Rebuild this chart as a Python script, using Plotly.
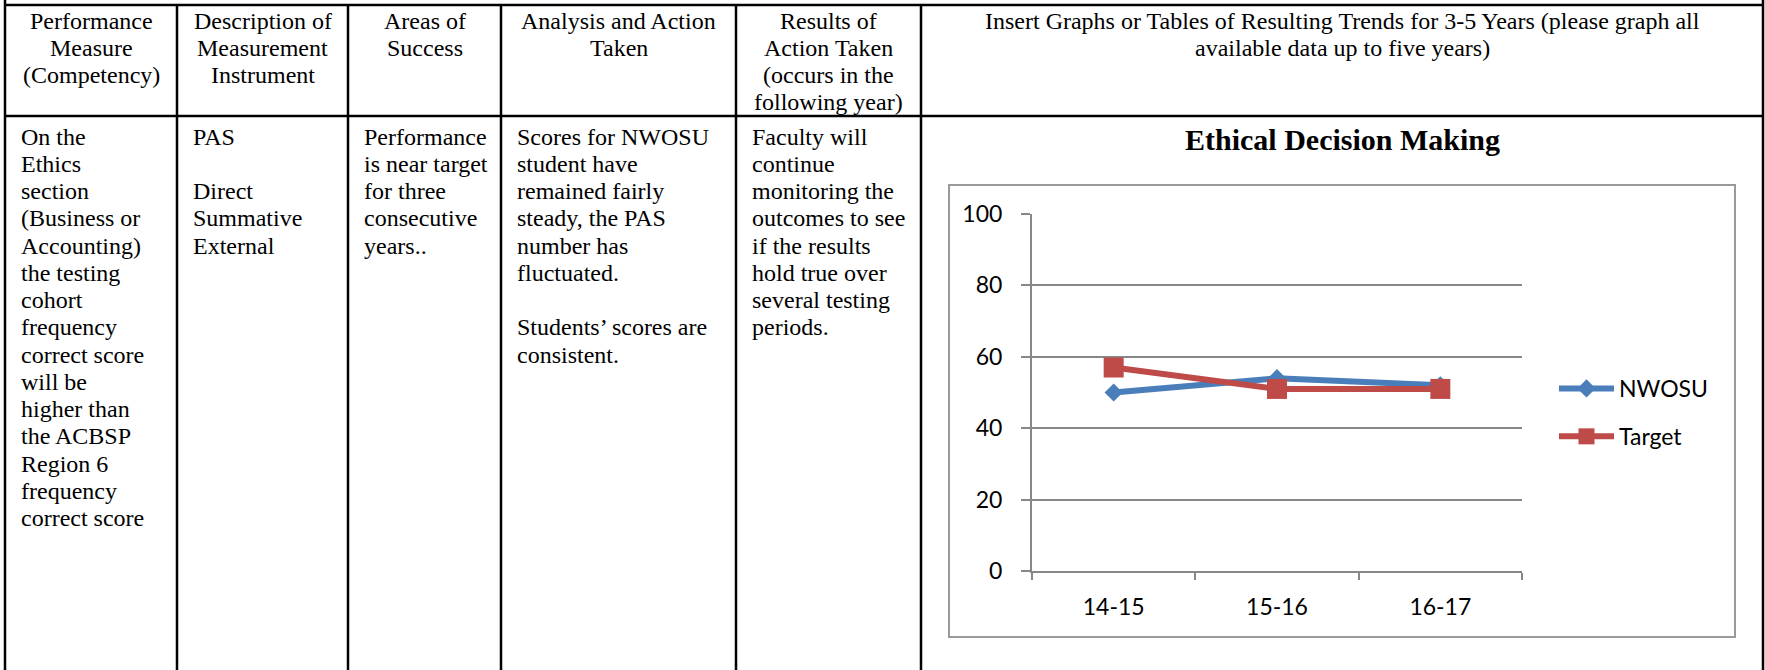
import plotly.graph_objects as go

W, H = 1765, 670

# ---- chart data ----
categories = ["14-15", "15-16", "16-17"]
nwosu = [50, 54, 52]
target = [57, 51, 51]
y_ticks = [0, 20, 40, 60, 80, 100]
chart_title = "Ethical Decision Making"

# ---- table text ----
header_cols = [
    ["Performance", "Measure", "(Competency)"],
    ["Description of", "Measurement", "Instrument"],
    ["Areas of", "Success"],
    ["Analysis and Action", "Taken"],
    ["Results of", "Action Taken", "(occurs in the", "following year)"],
    ["Insert Graphs or Tables of Resulting Trends for 3-5 Years (please graph all",
     "available data up to five years)"],
]
body_cols = [
    ["On the", "Ethics", "section", "(Business or", "Accounting)", "the testing", "cohort",
     "frequency", "correct score", "will be", "higher than", "the ACBSP", "Region 6",
     "frequency", "correct score"],
    ["PAS", "", "Direct", "Summative", "External"],
    ["Performance", "is near target", "for three", "consecutive", "years.."],
    ["Scores for NWOSU", "student have", "remained fairly", "steady, the PAS", "number has",
     "fluctuated.", "", "Students\u2019 scores are", "consistent."],
    ["Faculty will", "continue", "monitoring the", "outcomes to see", "if the results",
     "hold true over", "several testing", "periods."],
]

# ---- layout geometry (pixels) ----
col_edges = [5, 177, 348, 501, 736, 921, 1763]
top_y, head_y = 5, 116
head_line0, line_gap = 20.5, 27.25
body_line0 = 136.5
body_pad = 14
plot_x0, plot_x1, plot_y0, plot_y1 = 1032, 1522, 214, 571
box = (949, 185, 1735, 637)

SERIF = "Liberation Serif, Times New Roman, serif"
SANS = "Lato, Open Sans, sans-serif"
GRAY = "#878787"
TXT = 24


def px(x):
    return x / W


def py(y):
    return 1 - y / H


fig = go.Figure()
fig.add_trace(go.Scatter(
    x=categories, y=nwosu, name="NWOSU", mode="lines+markers", legendgroup="a",
    line=dict(color="#4A7EBB", width=6),
    marker=dict(symbol="diamond", size=14, color="#4A7EBB")))
fig.add_trace(go.Scatter(
    x=categories, y=target, name="Target", mode="lines+markers", legendgroup="b",
    line=dict(color="#BE4B48", width=6),
    marker=dict(symbol="square", size=20, color="#BE4B48")))

shapes = []
line_style = dict(color="black", width=2.5)
for x in (col_edges[0], col_edges[-1]):
    shapes.append(dict(type="line", xref="paper", yref="paper", x0=px(x), x1=px(x),
                       y0=py(0), y1=py(H), line=line_style))
for x in col_edges[1:-1]:
    shapes.append(dict(type="line", xref="paper", yref="paper", x0=px(x), x1=px(x),
                       y0=py(top_y), y1=py(H), line=line_style))
for y in (top_y, head_y):
    shapes.append(dict(type="line", xref="paper", yref="paper", x0=px(col_edges[0]),
                       x1=px(col_edges[-1]), y0=py(y), y1=py(y), line=line_style))
shapes.append(dict(type="rect", xref="paper", yref="paper", x0=px(box[0]), x1=px(box[2]),
                   y0=py(box[3]), y1=py(box[1]), line=dict(color="#9a9a9a", width=2),
                   fillcolor="rgba(0,0,0,0)", layer="below"))

annotations = []
for i, lines in enumerate(header_cols):
    cx = (col_edges[i] + col_edges[i + 1]) / 2
    for j, t in enumerate(lines):
        annotations.append(dict(
            text=t, x=px(cx), y=py(head_line0 + j * line_gap), xref="paper", yref="paper",
            xanchor="center", yanchor="middle", showarrow=False,
            font=dict(family=SERIF, size=TXT, color="black")))
for i, lines in enumerate(body_cols):
    lx = col_edges[i] + body_pad
    for j, t in enumerate(lines):
        if not t:
            continue
        annotations.append(dict(
            text=t, x=px(lx), y=py(body_line0 + j * line_gap), xref="paper", yref="paper",
            xanchor="left", yanchor="middle", showarrow=False,
            font=dict(family=SERIF, size=TXT, color="black")))
annotations.append(dict(
    text="<b>" + chart_title + "</b>", x=px(1342), y=py(140), xref="paper", yref="paper",
    xanchor="center", yanchor="middle", showarrow=False,
    font=dict(family=SERIF, size=30, color="black")))

fig.update_layout(
    width=W, height=H, autosize=False,
    margin=dict(l=0, r=0, t=0, b=0, pad=0, autoexpand=False),
    paper_bgcolor="white", plot_bgcolor="white",
    showlegend=True,
    legend=dict(x=px(1554), y=py(367), xanchor="left", yanchor="top",
                font=dict(family=SANS, size=23, color="black"), itemwidth=55,
                bgcolor="rgba(0,0,0,0)", traceorder="grouped", tracegroupgap=15),
    xaxis=dict(domain=[px(plot_x0), px(plot_x1)], type="category", range=[-0.5, 2.5],
               showline=True, linecolor=GRAY, linewidth=2, ticks="outside",
               tickson="boundaries", ticklen=7, tickwidth=2, tickcolor=GRAY,
               showgrid=False, zeroline=False, ticklabelstandoff=14, automargin=False,
               tickfont=dict(family=SANS, size=23, color="black")),
    yaxis=dict(domain=[py(plot_y1), py(plot_y0)], range=[0, 100], tickvals=y_ticks,
               showline=True, linecolor=GRAY, linewidth=2, ticks="outside", ticklen=9,
               tickwidth=2, tickcolor=GRAY, showgrid=True, gridcolor=GRAY, gridwidth=2,
               zeroline=False, ticklabelstandoff=14, automargin=False,
               tickfont=dict(family=SANS, size=23, color="black")),
    shapes=shapes, annotations=annotations,
)

fig.write_html(
    "out.html",
    config={"displayModeBar": False},
    post_script=("var d=document.getElementById('{plot_id}');"
                 "d.style.position='fixed';d.style.top='0px';d.style.left='0px';"
                 "document.documentElement.style.margin='0';"
                 "document.body.style.margin='0';document.body.style.padding='0';"
                 "document.documentElement.style.overflow='hidden';"
                 "document.body.style.overflow='hidden';"),
)
